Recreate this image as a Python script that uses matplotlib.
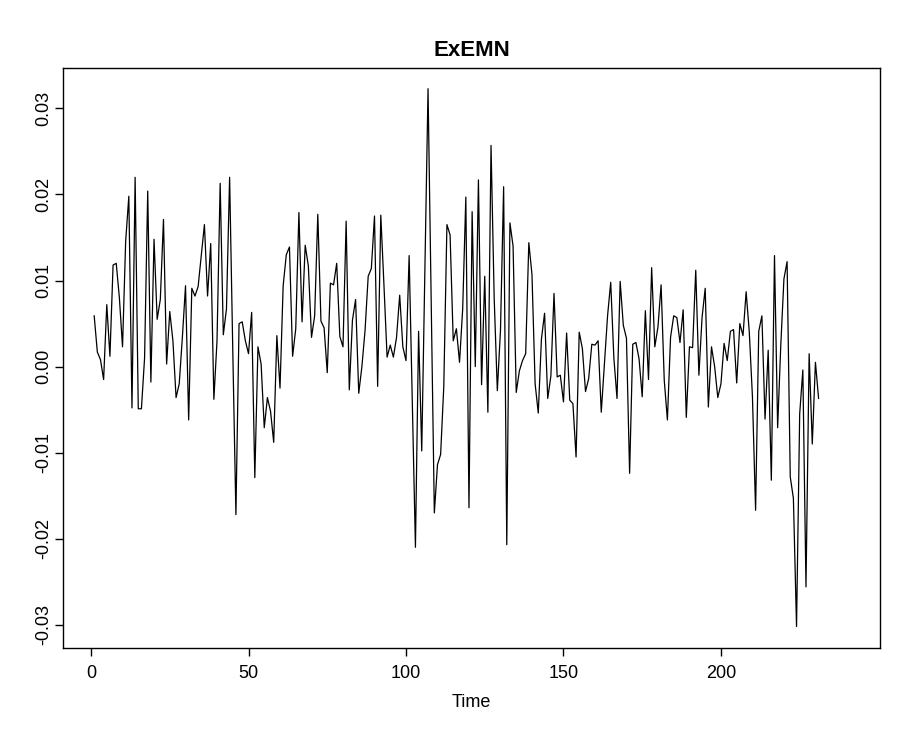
import matplotlib
matplotlib.use("Agg")
import matplotlib.pyplot as plt

plt.rcParams['font.family'] = ['Liberation Sans', 'DejaVu Sans']

# series values, index 1..231
exemn = [
    0.0059, 0.0017, 0.0008, -0.0015, 0.0072, 0.0012, 0.0118, 0.0120, 0.0080, 0.0023,
    0.0146, 0.0198, -0.0048, 0.0220, -0.0049, -0.0049, 0.0010, 0.0204, -0.0018, 0.0148,
    0.0055, 0.0078, 0.0171, 0.0003, 0.0064, 0.0030, -0.0036, -0.0020, 0.0034, 0.0094,
    -0.0062, 0.0091, 0.0082, 0.0093, 0.0129, 0.0165, 0.0082, 0.0143, -0.0038, 0.0030,
    0.0213, 0.0037, 0.0067, 0.0220, 0.0020, -0.0172, 0.0050, 0.0052, 0.0030, 0.0015,
    0.0063, -0.0129, 0.0023, 0.0003, -0.0071, -0.0036, -0.0052, -0.0088, 0.0036, -0.0025,
    0.0094, 0.0130, 0.0139, 0.0012, 0.0044, 0.0179, 0.0052, 0.0141, 0.0117, 0.0034,
    0.0059, 0.0177, 0.0053, 0.0045, -0.0007, 0.0097, 0.0095, 0.0120, 0.0035, 0.0023,
    0.0169, -0.0027, 0.0054, 0.0078, -0.0031, 0.0000, 0.0042, 0.0105, 0.0114, 0.0175,
    -0.0023, 0.0176, 0.0095, 0.0011, 0.0025, 0.0011, 0.0034, 0.0083, 0.0023, 0.0007,
    0.0129, -0.0040, -0.0210, 0.0041, -0.0098, 0.0110, 0.0323, 0.0075, -0.0170, -0.0114,
    -0.0102, -0.0023, 0.0165, 0.0153, 0.0030, 0.0044, 0.0005, 0.0067, 0.0197, -0.0164,
    0.0180, 0.0000, 0.0217, -0.0021, 0.0105, -0.0053, 0.0257, 0.0080, -0.0028, 0.0042,
    0.0209, -0.0207, 0.0167, 0.0140, -0.0030, -0.0005, 0.0007, 0.0015, 0.0144, 0.0107,
    -0.0020, -0.0054, 0.0032, 0.0062, -0.0037, -0.0011, 0.0085, -0.0012, -0.0010, -0.0041,
    0.0039, -0.0039, -0.0043, -0.0105, 0.0040, 0.0021, -0.0029, -0.0014, 0.0026, 0.0025,
    0.0030, -0.0053, 0.0003, 0.0059, 0.0098, 0.0010, -0.0037, 0.0099, 0.0048, 0.0033,
    -0.0124, 0.0026, 0.0028, 0.0009, -0.0035, 0.0065, -0.0015, 0.0115, 0.0023, 0.0046,
    0.0095, -0.0016, -0.0062, 0.0034, 0.0059, 0.0057, 0.0028, 0.0066, -0.0059, 0.0023,
    0.0022, 0.0112, -0.0010, 0.0057, 0.0091, -0.0047, 0.0023, 0.0000, -0.0036, -0.0020,
    0.0027, 0.0007, 0.0041, 0.0043, -0.0019, 0.0050, 0.0036, 0.0087, 0.0040, -0.0035,
    -0.0167, 0.0041, 0.0059, -0.0061, 0.0019, -0.0132, 0.0129, -0.0071, 0.0025, 0.0102,
    0.0122, -0.0128, -0.0153, -0.0302, -0.0055, -0.0004, -0.0256, 0.0015, -0.0090, 0.0005,
    -0.0037,
]
time = list(range(1, len(exemn) + 1))

xticks = [0, 50, 100, 150, 200]
yticks = [-0.03, -0.02, -0.01, 0.00, 0.01, 0.02, 0.03]
ytick_labels = ["-0.03", "-0.02", "-0.01", "0.00", "0.01", "0.02", "0.03"]

fig = plt.figure(figsize=(9.05, 7.37), dpi=100)
ax = fig.add_axes([63/905, 89/737, 817/905, 580/737])

ax.plot(time, exemn, color='black', lw=0.9)

ax.set_xlim(-8.9, 250.5)
ax.set_ylim(-0.0327, 0.0347)
ax.set_xticks(xticks)
ax.set_xticklabels([str(t) for t in xticks])
ax.set_yticks(yticks)
ax.set_yticklabels(ytick_labels, rotation=90, va='center')

ax.tick_params(direction='out', length=6, width=1, labelsize=13)
ax.tick_params(axis='x', pad=6)
ax.tick_params(axis='y', pad=2)
for s in ax.spines.values():
    s.set_linewidth(1)

ax.set_title("ExEMN", fontsize=16, fontweight='bold', pad=9)
ax.set_xlabel("Time", fontsize=13, labelpad=9)

fig.savefig("out.png", dpi=100)
